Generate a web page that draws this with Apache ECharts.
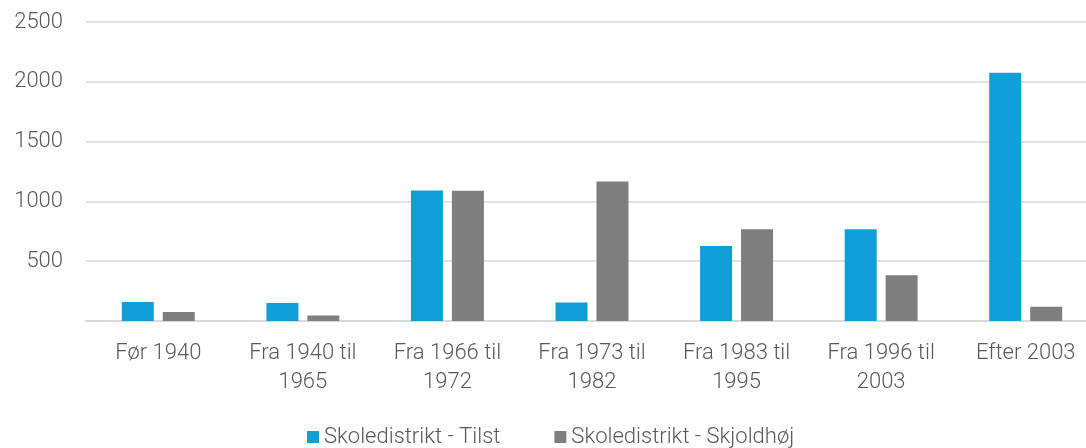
<!DOCTYPE html>
<html>
<head>
<meta charset="utf-8">
<script src="https://cdn.jsdelivr.net/npm/echarts@6/dist/echarts.min.js"></script>
<style>
  html, body { margin: 0; padding: 0; background: #fff; }
</style>
</head>
<body>
<div id="chart" style="width:1086px;height:448px;"></div>
<script>
var categories = ["Før 1940", "Fra 1940 til 1965", "Fra 1966 til 1972", "Fra 1973 til 1982", "Fra 1983 til 1995", "Fra 1996 til 2003", "Efter 2003"];
var tilst = [158, 150, 1092, 155, 628, 767, 2075];
var skjoldhoj = [75, 47, 1090, 1167, 767, 383, 119];
var seriesNames = ["Skoledistrikt - Tilst", "Skoledistrikt - Skjoldhøj"];

var chart = echarts.init(document.getElementById("chart"));
var font = "Roboto, 'Liberation Sans', Arial, sans-serif";

chart.setOption({
  animation: false,
  textStyle: { fontFamily: font, fontWeight: 300 },
  grid: {
    left: 86,
    right: -12,
    top: 22,
    bottom: 127,
    containLabel: false,
    outerBoundsMode: "none"
  },
  legend: {
    data: seriesNames,
    left: 302,
    top: 421,
    itemWidth: 12,
    itemHeight: 12,
    itemGap: 54,
    icon: "rect",
    textStyle: { color: "#595959", fontSize: 22, fontFamily: font, fontWeight: 300 }
  },
  xAxis: {
    type: "category",
    data: categories,
    axisTick: { show: false },
    axisLine: { lineStyle: { color: "#D9D9D9", width: 2 } },
    axisLabel: {
      color: "#595959",
      fontSize: 22,
      fontWeight: 300,
      lineHeight: 29,
      margin: 18,
      interval: 0,
      formatter: function (v) { return v.replace(" til ", " til\n"); }
    }
  },
  yAxis: {
    type: "value",
    min: 0,
    max: 2500,
    interval: 500,
    axisLine: { show: false },
    axisTick: { show: false },
    splitLine: { lineStyle: { color: "#D9D9D9", width: 1.5 } },
    axisLabel: {
      color: "#595959",
      fontSize: 22,
      fontWeight: 300,
      margin: 23,
      showMinLabel: false,
      formatter: function (v) { return String(v); }
    }
  },
  series: [
    {
      name: seriesNames[0],
      type: "bar",
      data: tilst,
      barWidth: 32,
      barGap: "28%",
      itemStyle: { color: "#0F9ED5" }
    },
    {
      name: seriesNames[1],
      type: "bar",
      data: skjoldhoj,
      barWidth: 32,
      itemStyle: { color: "#7F7F7F" }
    }
  ]
});
</script>
</body>
</html>
